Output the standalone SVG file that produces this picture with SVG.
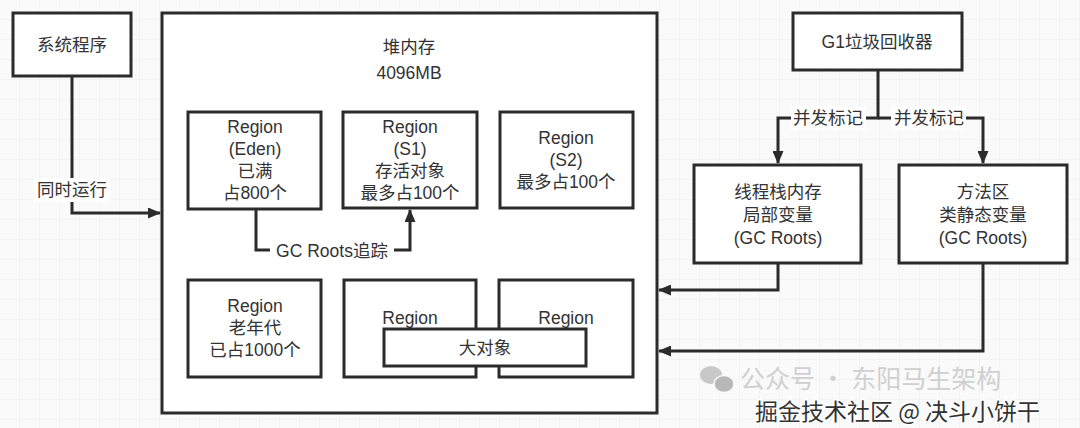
<svg xmlns="http://www.w3.org/2000/svg" width="1080" height="428" viewBox="0 0 1080 428">
<defs>
<pattern id="grid" width="20" height="20" patternUnits="userSpaceOnUse">
<path d="M20 0V20M0 20H20" fill="none" stroke="#ececec" stroke-width="1"/>
</pattern>
<marker id="arr" markerWidth="13" markerHeight="11" refX="12" refY="5.5" orient="auto" markerUnits="userSpaceOnUse">
<path d="M0 0L13 5.5L0 11Z" fill="#2b2b2b"/>
</marker>
<style>
.box{fill:#fff;stroke:#2b2b2b;stroke-width:3}
.t{font-family:"Liberation Sans","Noto Sans CJK SC",sans-serif;font-size:17.5px;fill:#333;text-anchor:middle}
.c{fill:none;stroke:#2b2b2b;stroke-width:3}
.lbl{fill:#fff}
</style>
</defs>
<rect width="1080" height="428" fill="#fafafa"/>
<rect width="1080" height="428" fill="url(#grid)"/>

<g id="sys">
<rect class="box" x="13" y="13" width="118" height="63"/>
<text class="t" x="72" y="51">系统程序</text>
</g>

<g id="heap">
<rect class="box" x="162" y="13" width="495" height="400"/>
<text class="t" x="409" y="53">堆内存</text>
<text class="t" x="409" y="79">4096MB</text>
</g>

<g id="eden">
<rect class="box" x="188" y="112" width="133" height="97"/>
<text class="t" x="255" y="133">Region</text>
<text class="t" x="255" y="155">(Eden)</text>
<text class="t" x="255" y="177">已满</text>
<text class="t" x="255" y="199">占800个</text>
</g>

<g id="s1">
<rect class="box" x="343" y="112" width="134" height="96"/>
<text class="t" x="410" y="133">Region</text>
<text class="t" x="410" y="155">(S1)</text>
<text class="t" x="410" y="177">存活对象</text>
<text class="t" x="410" y="199">最多占100个</text>
</g>

<g id="s2">
<rect class="box" x="500" y="112" width="133" height="96"/>
<text class="t" x="566" y="144">Region</text>
<text class="t" x="566" y="166">(S2)</text>
<text class="t" x="566" y="188">最多占100个</text>
</g>

<g id="old">
<rect class="box" x="188" y="280" width="133" height="97"/>
<text class="t" x="255" y="312">Region</text>
<text class="t" x="255" y="334">老年代</text>
<text class="t" x="255" y="356">已占1000个</text>
</g>

<g id="region-mid">
<rect class="box" x="344" y="280" width="132" height="97"/>
<text class="t" x="410" y="324">Region</text>
</g>

<g id="region-right">
<rect class="box" x="499" y="280" width="134" height="97"/>
<text class="t" x="566" y="324">Region</text>
</g>

<g id="big">
<rect class="box" x="384" y="329" width="202" height="37"/>
<text class="t" x="485" y="354">大对象</text>
</g>

<g id="g1">
<rect class="box" x="793" y="13" width="169" height="57"/>
<text class="t" x="877" y="48">G1垃圾回收器</text>
</g>

<g id="stack">
<rect class="box" x="694" y="165" width="167" height="98"/>
<text class="t" x="778" y="198">线程栈内存</text>
<text class="t" x="778" y="221">局部变量</text>
<text class="t" x="778" y="244">(GC Roots)</text>
</g>

<g id="method">
<rect class="box" x="899" y="165" width="168" height="98"/>
<text class="t" x="983" y="198">方法区</text>
<text class="t" x="983" y="221">类静态变量</text>
<text class="t" x="983" y="244">(GC Roots)</text>
</g>

<g id="connectors">
<path class="c" d="M72 76V213H160" marker-end="url(#arr)"/>
<rect class="lbl" x="34" y="178" width="76" height="24"/>
<text class="t" x="72" y="196">同时运行</text>

<path class="c" d="M256 209V250H410V210" marker-end="url(#arr)"/>
<rect class="lbl" x="270" y="239" width="124" height="24"/>
<text class="t" x="332" y="257">GC Roots追踪</text>

<path class="c" d="M878 70V118H778V163" marker-end="url(#arr)"/>
<path class="c" d="M878 118H983V163" marker-end="url(#arr)"/>
<rect class="lbl" x="791" y="106" width="75" height="24"/>
<text class="t" x="828" y="124">并发标记</text>
<rect class="lbl" x="891" y="106" width="75" height="24"/>
<text class="t" x="929" y="124">并发标记</text>

<path class="c" d="M778 263V290H659" marker-end="url(#arr)"/>
<path class="c" d="M983 263V351H659" marker-end="url(#arr)"/>
</g>

<g id="watermark">
<ellipse cx="711" cy="375" rx="11" ry="9" fill="#c8c8c8"/>
<ellipse cx="724" cy="384" rx="10" ry="8.5" fill="#b8b8b8" stroke="#fafafa" stroke-width="1.5"/>
<text x="740" y="388" font-family="'Noto Sans CJK SC',sans-serif" font-size="25" fill="#d0d0d0">公众号 · 东阳马生架构</text>
<text x="755" y="420" font-family="'Noto Sans CJK SC',sans-serif" font-size="23" fill="#333" stroke="#fff" stroke-width="3" paint-order="stroke">掘金技术社区 @ 决斗小饼干</text>
</g>
</svg>
